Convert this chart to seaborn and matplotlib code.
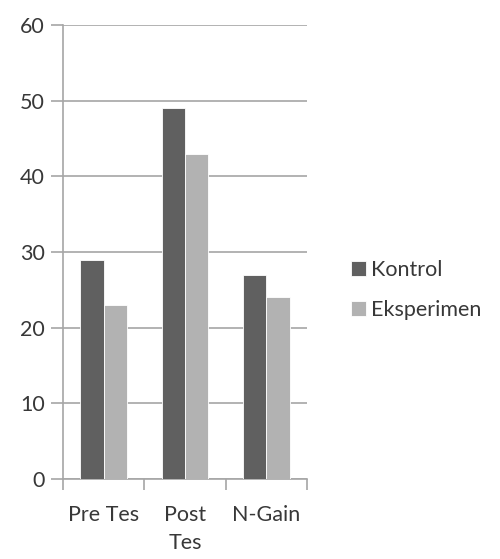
import pandas as pd
import matplotlib.pyplot as plt
import seaborn as sns
from matplotlib.ticker import FixedLocator

# Data
kategori = ["Pre Tes", "Post Tes", "N-Gain"]
label_tick = ["Pre Tes", "Post\nTes", "N-Gain"]
kontrol = [29, 49, 27]
eksperimen = [23, 43, 24]

df = pd.DataFrame({
    "kategori": kategori * 2,
    "nilai": kontrol + eksperimen,
    "kelompok": ["Kontrol"] * 3 + ["Eksperimen"] * 3,
})

sns.set_style("white")
plt.rcParams["font.family"] = ["Lato", "DejaVu Sans"]

fig = plt.figure(figsize=(5, 5.59), dpi=100)
ax = fig.add_axes([0.126, 0.143, 0.488, 0.812])

sns.barplot(data=df, x="kategori", y="nilai", hue="kelompok",
            palette=["#606060", "#b2b2b2"], width=0.57, gap=0,
            edgecolor="white", linewidth=0.6, ax=ax, zorder=3)

ax.set_ylim(0, 60)
ax.set_xlim(-0.5, 2.5)
ax.set_yticks(range(0, 61, 10))
ax.yaxis.grid(True, color="#a6a6a6", linewidth=1.2, zorder=0)
ax.set_axisbelow(True)
ax.set_xlabel("")
ax.set_ylabel("")
ax.set_xticks(range(3))
ax.set_xticklabels(label_tick, fontsize=15.5, color="#383838", linespacing=1.5)
ax.tick_params(axis="x", which="major", bottom=True, length=0, pad=19)
ax.xaxis.set_minor_locator(FixedLocator([-0.5, 0.5, 1.5, 2.5]))
ax.tick_params(axis="x", which="minor", bottom=True, length=8,
               color="#a6a6a6", width=1.2)
ax.tick_params(axis="y", left=True, length=9, color="#a6a6a6", width=1.2,
               labelsize=15.5, labelcolor="#383838", pad=4)

for s in ["top", "right"]:
    ax.spines[s].set_visible(False)
for s in ["left", "bottom"]:
    ax.spines[s].set_color("#a6a6a6")
    ax.spines[s].set_linewidth(1.2)

leg = ax.legend(loc="center left", bbox_to_anchor=(1.18, 0.416), frameon=False,
                fontsize=15.5, handlelength=0.7, handleheight=0.7,
                handletextpad=0.25, labelspacing=0.95,
                borderpad=0, borderaxespad=0)
for t in leg.get_texts():
    t.set_color("#383838")

plt.savefig("out.png", dpi=100)
